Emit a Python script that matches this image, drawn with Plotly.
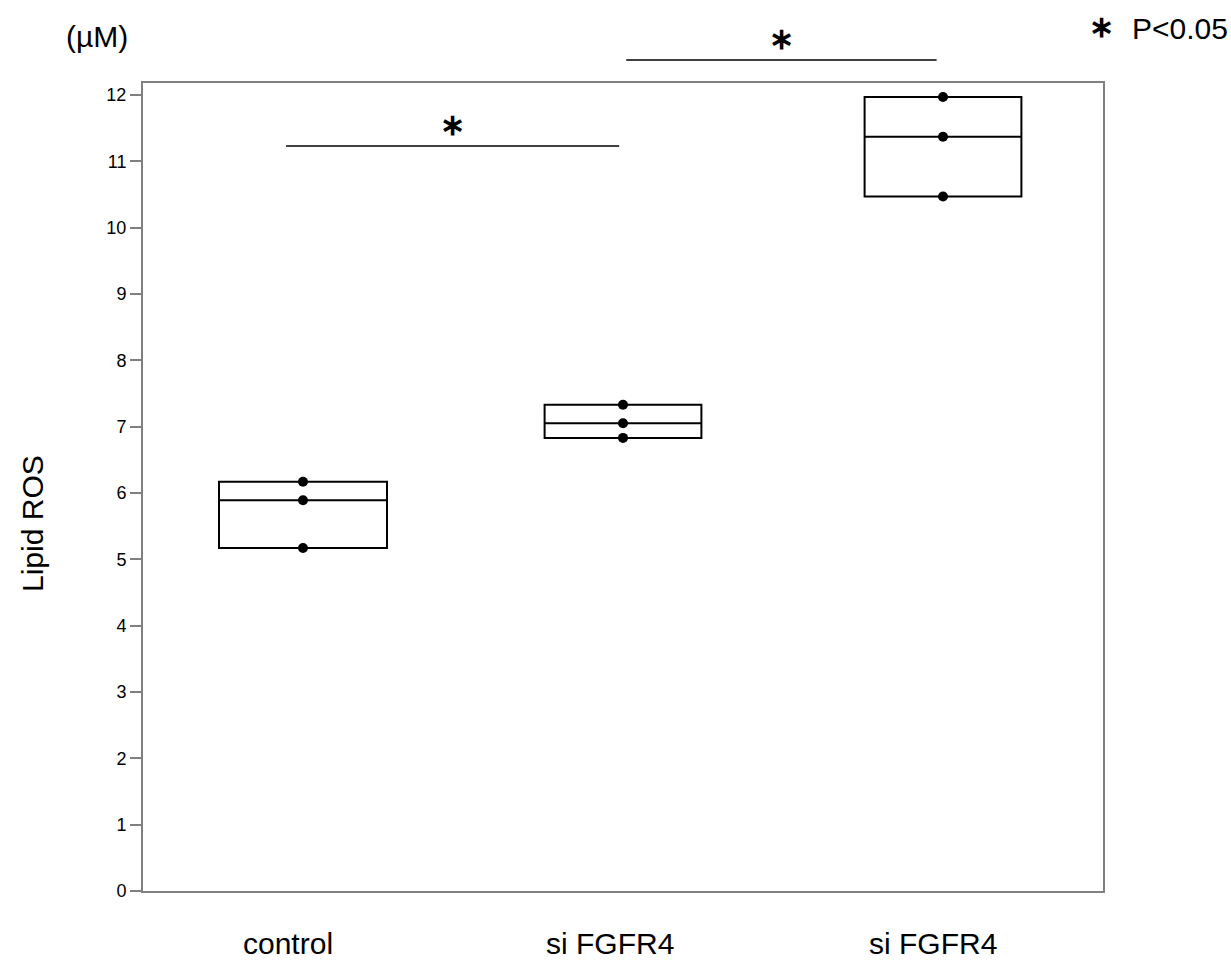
import plotly.graph_objects as go

# Lipid ROS measurements (µM), three replicates per group
groups = ["control", "si FGFR4", "si FGFR4"]
positions = [0, 1, 2]
replicates = [
    [5.17, 5.89, 6.17],
    [6.83, 7.05, 7.33],
    [10.47, 11.37, 11.97],
]
box_widths = [0.525, 0.49, 0.49]
y_ticks = list(range(0, 13))

# plot-area geometry in pixels, used to place the free text
L, R, T, B = 143, 1103, 83, 891
W, H = R - L, B - T


def px(xp):
    return (xp - L) / W


def py(yp):
    return (B - yp) / H


fig = go.Figure()

# boxes span min..max with a median line
for xpos, vals, bw in zip(positions, replicates, box_widths):
    v = sorted(vals)
    fig.add_trace(go.Box(
        x=[xpos], q1=[v[0]], median=[v[1]], q3=[v[-1]],
        lowerfence=[v[0]], upperfence=[v[-1]],
        width=bw,
        line=dict(color="black", width=2),
        fillcolor="rgba(255,255,255,0)",
        whiskerwidth=0, showlegend=False, hoverinfo="skip",
    ))
    fig.add_trace(go.Scatter(
        x=[xpos] * len(vals), y=vals, mode="markers",
        marker=dict(color="black", size=10),
        showlegend=False, cliponaxis=False,
    ))

font = "Liberation Sans, Arial, Helvetica, sans-serif"
fig.update_layout(
    width=1231, height=960,
    margin=dict(l=L, r=1231 - R, t=T, b=960 - B),
    paper_bgcolor="white", plot_bgcolor="white",
    font=dict(family=font, color="black"),
    xaxis=dict(range=[-0.5, 2.5], showticklabels=False, ticks="",
               showgrid=False, zeroline=False,
               showline=True, linecolor="#808080", linewidth=2, mirror=True),
    yaxis=dict(range=[0, 12.18], tickvals=y_ticks, ticks="outside", ticklen=11,
               tickwidth=1.5, tickcolor="#808080", tickfont=dict(size=18),
               showgrid=False, zeroline=False,
               showline=True, linecolor="#808080", linewidth=2, mirror=True),
)

big = dict(size=30)

# group labels under the axis
for xp, name in zip([288, 610, 933], groups):
    fig.add_annotation(x=px(xp), y=py(943), xref="paper", yref="paper",
                       text=name, showarrow=False, font=big,
                       xanchor="center", yanchor="middle")

# axis title and unit
fig.add_annotation(x=px(32), y=py(524), xref="paper", yref="paper",
                   text="Lipid ROS", textangle=-90, showarrow=False, font=big,
                   xanchor="center", yanchor="middle")
fig.add_annotation(x=px(97), y=py(37), xref="paper", yref="paper",
                   text="(µM)", showarrow=False, font=big,
                   xanchor="center", yanchor="middle")

# significance brackets: (x from, x to, line pixel row, star pixel row)
brackets = [(-0.053, 0.988, 146, 124), (1.01, 1.98, 60, 38)]
for x0, x1, ypix, ystar in brackets:
    fig.add_shape(type="line", xref="x", yref="paper", x0=x0, x1=x1,
                  y0=py(ypix), y1=py(ypix),
                  line=dict(color="black", width=1.5))
    fig.add_annotation(x=(x0 + x1) / 2, y=py(ystar), xref="x", yref="paper",
                       text="<b>∗</b>", showarrow=False, font=dict(size=30),
                       xanchor="center", yanchor="middle")

# significance key
fig.add_annotation(x=px(1101), y=py(27), xref="paper", yref="paper",
                   text="<b>∗</b>", showarrow=False, font=dict(size=30),
                   xanchor="center", yanchor="middle")
fig.add_annotation(x=px(1130), y=py(29), xref="paper", yref="paper",
                   text="P<0.05", showarrow=False, font=big,
                   xanchor="left", yanchor="middle")

fig.write_html("out.html")
